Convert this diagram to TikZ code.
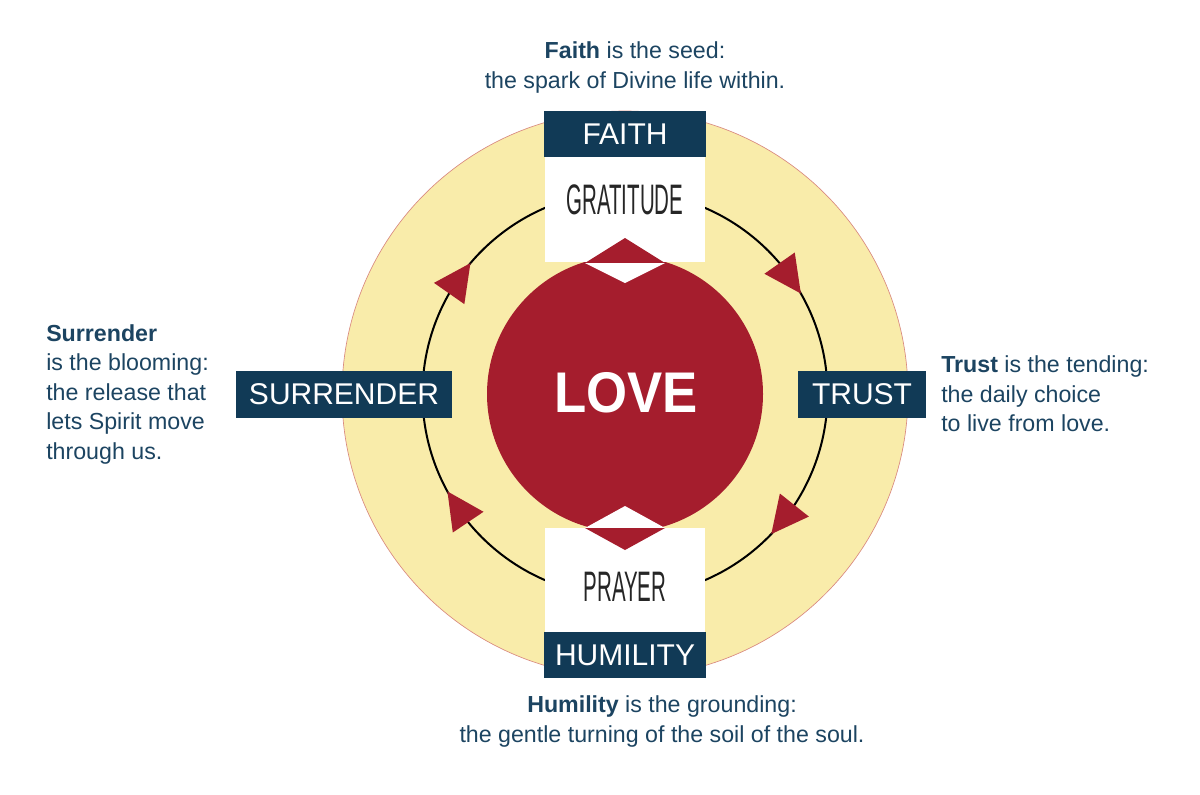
\documentclass[tikz,border=0pt]{standalone}
\usepackage{fontspec}
\setmainfont{Liberation Sans}
\usepackage{graphicx}
\definecolor{navy}{HTML}{113A56}
\definecolor{tnavy}{HTML}{1C4461}
\definecolor{lred}{HTML}{A51D2D}
\definecolor{cream}{HTML}{F9ECAA}
\definecolor{edgered}{HTML}{D98A80}
\tikzset{
  capbox/.style={fill=navy, text=white, inner sep=0pt, minimum height=34.5pt,
    font=\fontsize{22.5}{22.5}\selectfont},
  whitebox/.style={fill=white, inner sep=0pt, minimum width=120pt, minimum height=78.75pt},
  condtext/.style={inner sep=0pt, text=black!85},
  sidetext/.style={inner sep=0pt, text=tnavy, font=\fontsize{17.4}{22.2}\selectfont},
  arrowtri/.style={fill=lred},
}
\newcommand{\condword}[1]{\scalebox{0.48}[1]{\fontsize{32}{32}\selectfont #1}}
\begin{document}
\begin{tikzpicture}[x=0.75pt,y=-0.75pt]
\useasboundingbox (0,0) rectangle (1200,794);
\coordinate (c) at (625,394);
% outer yellow disc
\fill[cream, draw=edgered, line width=0.5pt] (c) circle[radius=212.25pt];
% black ring
\draw[black, line width=1.5pt] (c) circle[radius=151.9pt];
% red centre
\fill[lred] (c) circle[radius=103.5pt];
% arrow heads on the ring (clockwise)
\foreach \ang in {35,145,214,321.5}{
  \begin{scope}[shift={(c)}, rotate=\ang]
    \fill[arrowtri] (151.26pt,-13.9pt) -- (137.36pt,13.9pt) -- (165.16pt,13.9pt) -- cycle;
  \end{scope}
}
% white panels
\node[whitebox] (gratbox) at (625,209.5) {};
\node[whitebox] (praybox) at (625,580) {};
% navy caps
\node[capbox, minimum width=121.5pt] (faith) at (625,134) {FAITH};
\node[capbox, minimum width=121.5pt] (humility) at (625,655) {HUMILITY};
% diamonds
\fill[lred] (585,263) -- (665,263) -- (625,238) -- cycle;
\fill[white] (585,263) -- (665,263) -- (625,283) -- cycle;
\fill[white] (585,528) -- (665,528) -- (625,506) -- cycle;
\fill[lred] (585,528) -- (665,528) -- (625,550) -- cycle;
% condensed words
\node[condtext] (grat) at (625,200) {\condword{GRATITUDE}};
\node[condtext] (pray) at (625,587) {\condword{PRAYER}};
% side boxes
\node[capbox, minimum width=162pt, minimum height=35.25pt] (surrender) at (344,394.5) {SURRENDER};
\node[capbox, minimum width=96pt, minimum height=35.25pt] (trust) at (862,394.5) {TRUST};
% love
\node[text=white, inner sep=0pt] (love) at (626,393) {\scalebox{0.92}[1]{\fontsize{43}{43}\selectfont\bfseries LOVE}};
% descriptions
\node[sidetext, anchor=north, align=center] (faithtxt) at (635,41.5)
  {\textbf{Faith} is the seed:\\the spark of Divine life within.};
\node[sidetext, anchor=north west, align=left] (surrtxt) at (46,324)
  {\textbf{Surrender}\\is the blooming:\\the release that\\lets Spirit move\\through us.};
\node[sidetext, anchor=north west, align=left] (trusttxt) at (941,355.5)
  {\textbf{Trust} is the tending:\\the daily choice\\to live from love.};
\node[sidetext, anchor=north, align=center] (humtxt) at (662,695.5)
  {\textbf{Humility} is the grounding:\\the gentle turning of the soil of the soul.};
\end{tikzpicture}
\end{document}
